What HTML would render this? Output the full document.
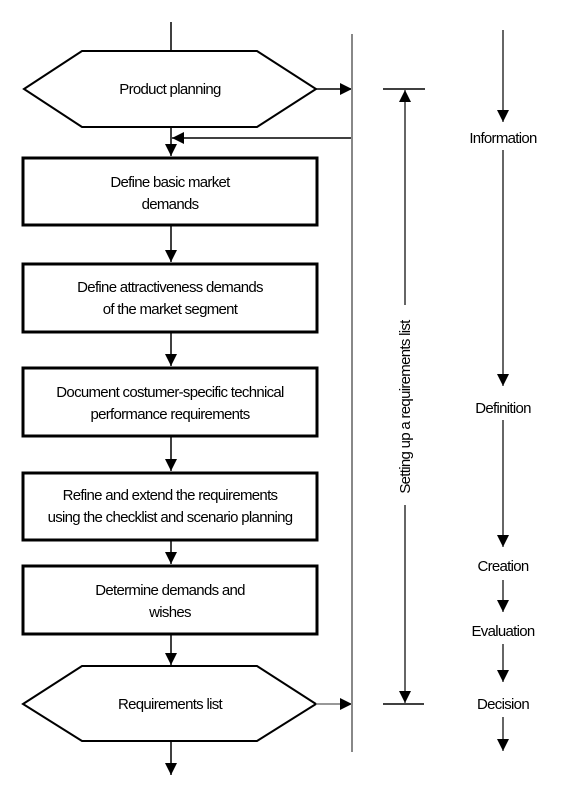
<!DOCTYPE html>
<html><head><meta charset="utf-8"><style>
html,body{margin:0;padding:0;background:#fff;width:563px;height:797px;overflow:hidden}
text{font-family:"Liberation Sans",sans-serif;font-size:15px;fill:#000;letter-spacing:-0.7px}
</style></head><body>
<svg width="563" height="797" viewBox="0 0 563 797" xmlns="http://www.w3.org/2000/svg">
<defs>
<marker id="b" viewBox="0 0 10 10" refX="10" refY="5" markerWidth="12" markerHeight="12" markerUnits="userSpaceOnUse" orient="auto"><path d="M0,0 L10,5 L0,10 z" fill="#000"/></marker>
</defs>
<g stroke="#000" fill="none">
<line x1="171" y1="22" x2="171" y2="51" stroke-width="1.5"/>
<polygon points="24,89 82,51 257,51 316,89 257,127 82,127" stroke-width="2" fill="#fff"/>
<line x1="316" y1="89" x2="352" y2="89" stroke-width="1.5" marker-end="url(#b)"/>
<line x1="352" y1="138" x2="172" y2="138" stroke-width="1.5" marker-end="url(#b)"/>
<line x1="171" y1="127" x2="171" y2="156" stroke-width="1.5" marker-end="url(#b)"/>
<rect x="23" y="158" width="294" height="67" stroke-width="3"/>
<line x1="171" y1="226" x2="171" y2="262" stroke-width="1.5" marker-end="url(#b)"/>
<rect x="23" y="264" width="294" height="68" stroke-width="3"/>
<line x1="171" y1="333" x2="171" y2="366" stroke-width="1.5" marker-end="url(#b)"/>
<rect x="23" y="368" width="294" height="68" stroke-width="3"/>
<line x1="171" y1="437" x2="171" y2="471" stroke-width="1.5" marker-end="url(#b)"/>
<rect x="23" y="473" width="294" height="67" stroke-width="3"/>
<line x1="171" y1="541" x2="171" y2="564" stroke-width="1.5" marker-end="url(#b)"/>
<rect x="23" y="566" width="294" height="68" stroke-width="3"/>
<line x1="171" y1="635" x2="171" y2="665" stroke-width="1.5" marker-end="url(#b)"/>
<polygon points="23,704 82,666 257,666 316,704 257,741 82,741" stroke-width="2" fill="#fff"/>
<line x1="316" y1="704" x2="352" y2="704" stroke-width="1.5" stroke="#777" marker-end="url(#b)"/>
<line x1="171" y1="742" x2="171" y2="775" stroke-width="1.5" marker-end="url(#b)"/>
<line x1="352" y1="34" x2="352" y2="752" stroke="#888" stroke-width="2"/>
<line x1="383" y1="89" x2="425" y2="89" stroke-width="1.5"/>
<line x1="383" y1="704" x2="424" y2="704" stroke-width="1.5"/>
<line x1="405" y1="305" x2="405" y2="90" stroke-width="1.2" marker-end="url(#b)"/>
<line x1="405" y1="505" x2="405" y2="703" stroke-width="1.2" marker-end="url(#b)"/>
<line x1="503" y1="30" x2="503" y2="122" stroke-width="1.2" marker-end="url(#b)"/>
<line x1="503" y1="150" x2="503" y2="386" stroke-width="1.2" marker-end="url(#b)"/>
<line x1="503" y1="420" x2="503" y2="547" stroke-width="1.2" marker-end="url(#b)"/>
<line x1="503" y1="580" x2="503" y2="612" stroke-width="1.2" marker-end="url(#b)"/>
<line x1="503" y1="644" x2="503" y2="682" stroke-width="1.2" marker-end="url(#b)"/>
<line x1="503" y1="717" x2="503" y2="751" stroke-width="1.2" marker-end="url(#b)"/>
</g>
<g text-anchor="middle">
<text x="170" y="94">Product planning</text>
<text x="170" y="187">Define basic market</text>
<text x="170" y="209">demands</text>
<text x="170" y="292">Define attractiveness demands</text>
<text x="170" y="314">of the market segment</text>
<text x="170" y="397">Document costumer-specific technical</text>
<text x="170" y="419">performance requirements</text>
<text x="170" y="500">Refine and extend the requirements</text>
<text x="170" y="522">using the checklist and scenario planning</text>
<text x="170" y="595">Determine demands and</text>
<text x="170" y="617">wishes</text>
<text x="170" y="709">Requirements list</text>
<text x="503" y="143">Information</text>
<text x="503" y="413">Definition</text>
<text x="503" y="571">Creation</text>
<text x="503" y="636">Evaluation</text>
<text x="503" y="709">Decision</text>
<text transform="translate(410,407) rotate(-90)">Setting up a requirements list</text>
</g>
</svg>
</body></html>
